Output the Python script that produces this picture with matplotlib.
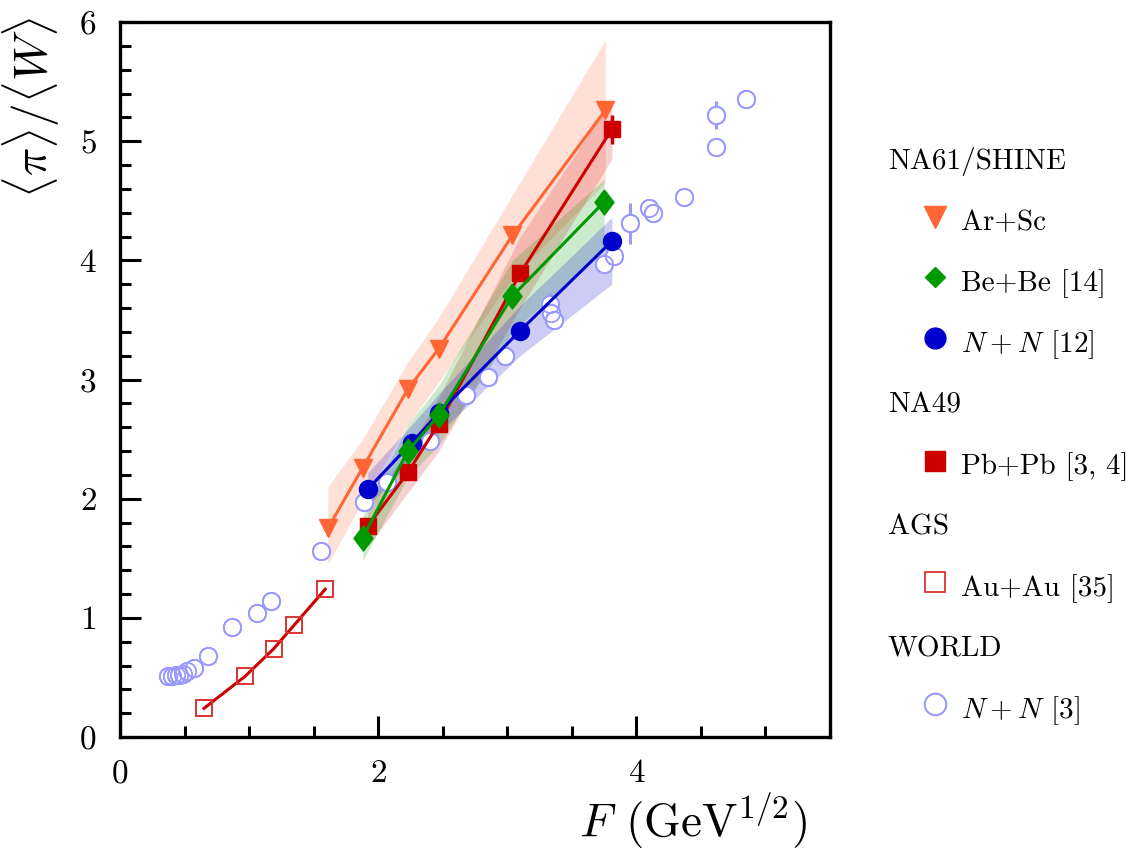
import matplotlib
matplotlib.use("Agg")
import matplotlib.pyplot as plt
from matplotlib.lines import Line2D
from matplotlib.ticker import MultipleLocator

plt.rcParams.update({
    "font.family": "serif",
    "font.serif": ["cmr10"],
    "mathtext.fontset": "cm",
    "axes.formatter.use_mathtext": True,
    "axes.unicode_minus": False,
})

# ---------------- data ----------------
# NA61/SHINE Ar+Sc
arsc_x = [1.61, 1.88, 2.23, 2.47, 3.04, 3.76]
arsc_y = [1.75, 2.26, 2.92, 3.26, 4.21, 5.26]
arsc_lo = [1.45, 1.98, 2.62, 2.98, 3.85, 4.65]
arsc_hi = [2.10, 2.50, 3.15, 3.52, 4.55, 5.85]

# NA61/SHINE Be+Be
bebe_x = [1.88, 2.23, 2.47, 3.04, 3.75]
bebe_y = [1.67, 2.40, 2.70, 3.70, 4.49]
bebe_lo = [1.48, 2.18, 2.45, 3.40, 4.10]
bebe_hi = [1.85, 2.62, 2.95, 4.00, 4.68]

# NA61/SHINE N+N
nn_x = [1.92, 2.26, 2.47, 3.10, 3.81]
nn_y = [2.08, 2.47, 2.72, 3.41, 4.16]
nn_lo = [1.94, 2.32, 2.55, 3.20, 3.80]
nn_hi = [2.22, 2.62, 2.88, 3.62, 4.36]

# NA49 Pb+Pb
pb_x = [1.92, 2.23, 2.47, 3.10, 3.81]
pb_y = [1.77, 2.22, 2.63, 3.89, 5.10]
pb_err = [0.0, 0.0, 0.0, 0.0, 0.12]
pb_lo = [1.60, 2.05, 2.40, 3.60, 4.85]
pb_hi = [1.95, 2.40, 2.85, 4.20, 5.35]

# AGS Au+Au
au_x = [0.65, 0.97, 1.19, 1.35, 1.59]
au_y = [0.24, 0.51, 0.74, 0.94, 1.24]

# WORLD N+N
w_x = [0.37, 0.40, 0.43, 0.46, 0.49, 0.52, 0.57, 0.68, 0.87, 1.06, 1.17, 1.56,
       1.89, 2.07, 2.40, 2.68, 2.85, 2.98, 3.33, 3.34, 3.36, 3.75, 3.83, 3.95,
       4.10, 4.13, 4.37, 4.62, 4.62, 4.85]
w_y = [0.51, 0.51, 0.52, 0.52, 0.53, 0.55, 0.58, 0.68, 0.92, 1.04, 1.14, 1.56,
       1.97, 2.14, 2.48, 2.87, 3.02, 3.20, 3.63, 3.56, 3.50, 3.97, 4.04, 4.31,
       4.44, 4.40, 4.53, 5.22, 4.95, 5.35]
w_err = [0, 0, 0, 0, 0, 0, 0, 0, 0, 0, 0, 0,
         0, 0, 0, 0, 0, 0, 0.10, 0, 0, 0, 0, 0.17,
         0, 0, 0, 0.12, 0.06, 0]

c_arsc = "#FF6633"
c_bebe = "#009900"
c_nn = "#0000CC"
c_pb = "#CC0000"
c_au = "#DD3333"
c_w = "#9999FF"

fig = plt.figure(figsize=(11.34, 8.56), dpi=100)
ax = fig.add_axes([120 / 1134, 1 - 737 / 856, 710 / 1134, 715 / 856])

# bands
ax.fill_between(arsc_x, arsc_lo, arsc_hi, color=c_arsc, alpha=0.2, lw=0, zorder=1)
ax.fill_between(pb_x, pb_lo, pb_hi, color=c_pb, alpha=0.18, lw=0, zorder=1)
ax.fill_between(bebe_x, bebe_lo, bebe_hi, color=c_bebe, alpha=0.2, lw=0, zorder=1)
ax.fill_between(nn_x, nn_lo, nn_hi, color=c_nn, alpha=0.2, lw=0, zorder=1)

# world data
ax.errorbar(w_x, w_y, yerr=w_err, fmt="none", ecolor=c_w, elinewidth=2.2,
            capsize=0, zorder=2)
ax.plot(w_x, w_y, linestyle="none", marker="o", ms=12.5, mfc="white",
        mec=c_w, mew=1.3, zorder=3)
ax.plot(w_x, w_y, linestyle="none", marker="o", ms=12.5, mfc="none",
        mec=c_w, mew=1.3, zorder=3)

# AGS
ax.plot(au_x, au_y, color=c_pb, lw=2.2, zorder=4)
ax.plot(au_x, au_y, linestyle="none", marker="s", ms=11, mfc="none",
        mec=c_au, mew=1.4, zorder=5)

diamond = [(0, 1), (0.76, 0), (0, -1), (-0.76, 0), (0, 1)]

# NA49 / NA61 series
ax.errorbar(pb_x, pb_y, yerr=pb_err, fmt="none", ecolor=c_pb, elinewidth=2.5,
            capsize=0, zorder=5)
ax.plot(pb_x, pb_y, color=c_pb, lw=2.2, marker="s", ms=12, zorder=6)
ax.plot(nn_x, nn_y, color=c_nn, lw=2.2, marker="o", ms=13, zorder=6)
ax.plot(bebe_x, bebe_y, color=c_bebe, lw=2.2, marker=diamond, ms=18, zorder=7)
ax.plot(arsc_x, arsc_y, color=c_arsc, lw=2.2, marker="v", ms=13.5, zorder=7)

ax.set_xlim(0, 5.5)
ax.set_ylim(0, 6)
ax.xaxis.set_major_locator(MultipleLocator(2))
ax.xaxis.set_minor_locator(MultipleLocator(0.5))
ax.yaxis.set_major_locator(MultipleLocator(1))
ax.yaxis.set_minor_locator(MultipleLocator(0.2))
ax.tick_params(which="both", direction="in", top=False, right=False, width=2.2)
ax.tick_params(which="major", length=15, labelsize=24)
ax.tick_params(axis="x", which="major", pad=16)
ax.tick_params(axis="y", which="major", pad=17)
ax.tick_params(which="minor", length=8)
for s in ax.spines.values():
    s.set_linewidth(2.4)

ax.set_xlabel(r"$F$ (GeV$^{1/2}$)", fontsize=34, ha="right")
ax.xaxis.set_label_coords(0.968, -0.075)
ax.set_ylabel(r"$\langle\pi\rangle/\langle W\rangle$", fontsize=34, ha="right")
ax.yaxis.set_label_coords(-0.082, 1.008)

# legend
fs = 21
blank = Line2D([], [], linestyle="none")
item_handles = [
    blank,
    Line2D([], [], linestyle="none", marker="v", ms=15.5, color=c_arsc),
    Line2D([], [], linestyle="none", marker="D", ms=10.5, color=c_bebe),
    Line2D([], [], linestyle="none", marker="o", ms=15, color=c_nn),
    blank,
    Line2D([], [], linestyle="none", marker="s", ms=15, color=c_pb),
    blank,
    Line2D([], [], linestyle="none", marker="s", ms=15, mfc="none", mec=c_au, mew=1.3),
    blank,
    Line2D([], [], linestyle="none", marker="o", ms=15.5, mfc="none", mec=c_w, mew=1.5),
]
item_labels = ["", "Ar+Sc", "Be+Be [14]", r"$N+N$ [12]", "", "Pb+Pb [3, 4]",
               "", "Au+Au [35]", "", r"$N+N$ [3]"]
head_labels = ["NA61/SHINE", "", "", "", "NA49", "", "AGS", "", "WORLD", ""]

row_top = 1 - 142 / 856
common = dict(loc="upper left", frameon=False, fontsize=fs, borderpad=0,
              borderaxespad=0, handleheight=1.5, labelspacing=0.866)
leg1 = fig.legend(item_handles, item_labels, bbox_to_anchor=(920 / 1134, row_top),
                  handlelength=1.0, handletextpad=0.42, **common)
leg2 = fig.legend([blank] * len(head_labels), head_labels,
                  bbox_to_anchor=(888 / 1134, row_top),
                  handlelength=0, handletextpad=0, **common)

fig.savefig("out.png", dpi=100)
